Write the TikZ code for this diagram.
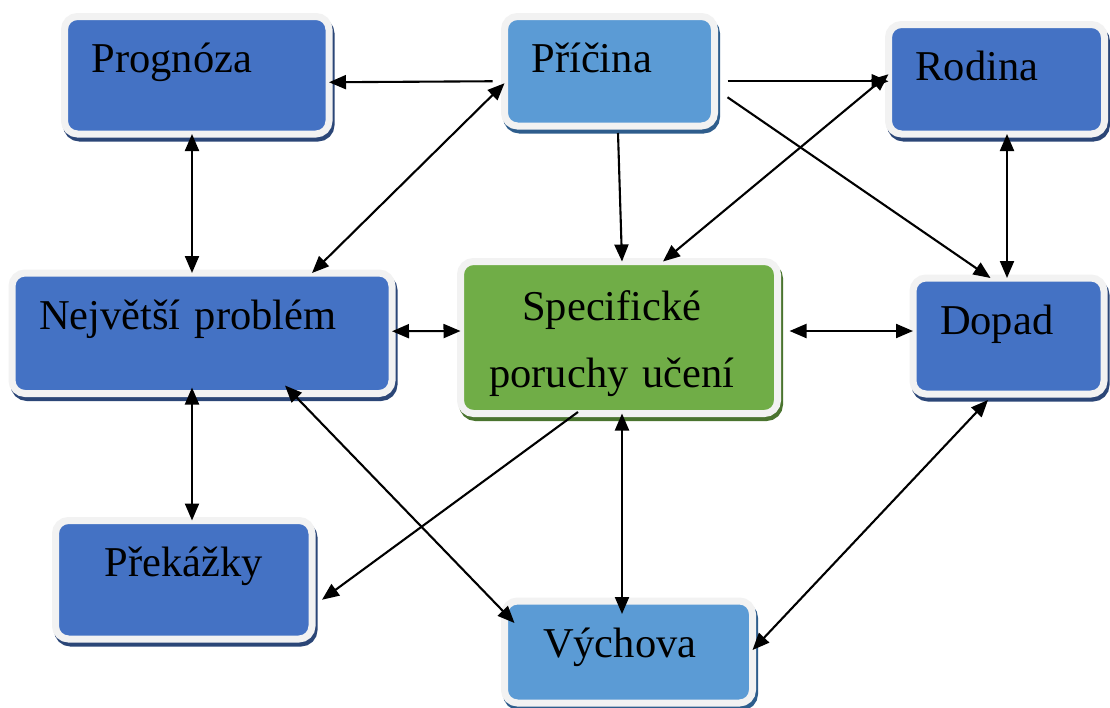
\documentclass[tikz,border=0pt]{standalone}
\usepackage{fontspec}
\setmainfont{Liberation Serif}
\usetikzlibrary{arrows.meta,shadows}

\definecolor{boxblue}{HTML}{4472C4}
\definecolor{boxlight}{HTML}{5B9BD5}
\definecolor{boxgreen}{HTML}{70AD47}
\definecolor{boxrim}{HTML}{F2F2F2}
\definecolor{shadeblue}{HTML}{2B4677}
\definecolor{shadelight}{HTML}{2E5D8C}
\definecolor{shadegreen}{HTML}{4A742F}

\begin{document}
\begin{tikzpicture}[x=1pt,y=-1pt,
  box/.style={draw=boxrim, line width=7pt, rounded corners=13pt, outer sep=0pt,
    inner xsep=27pt, inner ysep=26pt, font=\fontsize{42.5}{67}\selectfont},
  toptext/.style={text height=30pt, align=left},
  bluebox/.style={box, fill=boxblue,
    drop shadow={shadow xshift=2pt, shadow yshift=-4pt, opacity=1, fill=shadeblue, draw=shadeblue, line width=7pt}},
  lightbox/.style={box, fill=boxlight,
    drop shadow={shadow xshift=2pt, shadow yshift=-4pt, opacity=1, fill=shadelight, draw=shadelight, line width=7pt}},
  greenbox/.style={box, fill=boxgreen,
    drop shadow={shadow xshift=2pt, shadow yshift=-4pt, opacity=1, fill=shadegreen, draw=shadegreen, line width=7pt}},
  arr/.style={line width=2.1pt, -{Triangle[length=17pt,width=14pt]}},
  both/.style={line width=2.1pt, {Triangle[length=17pt,width=14pt]}-{Triangle[length=17pt,width=14pt]}}]

\useasboundingbox [fill=white] (0,0) rectangle (1110,707);

\node [bluebox, toptext, text width=210.5pt, text depth=35.5pt] (prog) at (196.75,75.25) {Prognóza};
\node [lightbox, toptext, text width=156pt, text depth=27.5pt] (pric) at (609.5,71.25) {Příčina};
\node [bluebox, toptext, text width=162pt, text depth=27.5pt] (rod) at (996.5,79.25) {Rodina};
\node [bluebox, toptext, text width=326pt, text depth=38.5pt] (nej) at (202,333.25) {Největší problém};
\node [greenbox, inner ysep=28.5pt, text height=30pt, text depth=65pt, text width=263pt, align=center] (spec) at (619,337.5) {\hspace*{-14pt}Specifické\\\hspace*{-14pt}poruchy učení};
\node [bluebox, toptext, text width=137pt, text depth=34pt] (dop) at (1008.5,336) {Dopad};
\node [bluebox, toptext, align=center, text width=202.5pt, text depth=36.5pt] (prek) at (183.75,579.75) {Překážky};
\node [lightbox, toptext, inner xsep=38.5pt, text width=171pt, text depth=20pt] (vych) at (628.5,652) {Výchova};

\draw [arr] ([shift={(-12,10)}]pric.west) -- ([shift={(0,7)}]prog.east);
\draw [arr] ([shift={(13,10)}]pric.east) -- ([shift={(0,2)}]rod.west);
\draw [arr] ([shift={(13,26)}]pric.east) -- ([shift={(-18,0)}]dop.north);
\draw [arr] ([shift={(8.5,7)}]pric.south) -- ([shift={(3,0)}]spec.north);
\draw [both] ([shift={(110,0)}]nej.north) -- ([shift={(0,12)}]pric.west);
\draw [both] ([shift={(44,0)}]spec.north) -- ([shift={(0,-5)}]rod.west);
\draw [both] ([shift={(-4.75,0)}]prog.south) -- ([shift={(-10,0)}]nej.north);
\draw [both] ([shift={(10.5,0)}]rod.south) -- ([shift={(-1.5,0)}]dop.north);
\draw [both] ([shift={(0,-2)}]nej.east) -- ([shift={(0,-6.5)}]spec.west);
\draw [both] ([shift={(12,-6.5)}]spec.east) -- ([shift={(0,-5)}]dop.west);
\draw [both] ([shift={(-10,-6)}]nej.south) -- ([shift={(8.25,0)}]prek.north);
\draw [both] ([shift={(83,-8)}]nej.south) -- ([shift={(10,22)}]vych.north west);
\draw [arr] ([shift={(-41,-1.5)}]spec.south) -- ([shift={(10,20)}]prek.east);
\draw [both] ([shift={(3,0)}]spec.south) -- ([shift={(-6.5,13)}]vych.north);
\draw [both] ([shift={(-20.5,6)}]dop.south) -- ([shift={(0,-2)}]vych.east);

\end{tikzpicture}
\end{document}
